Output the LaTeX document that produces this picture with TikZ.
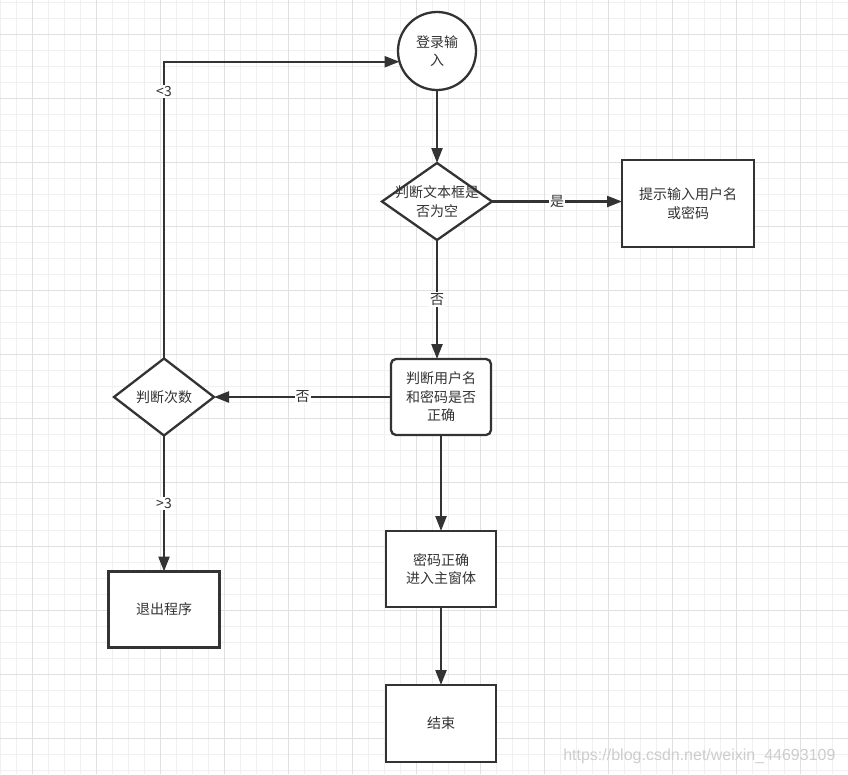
\documentclass[tikz,border=0pt]{standalone}
\usepackage{fontspec}
\usepackage{tikz}
\usetikzlibrary{positioning, arrows.meta, shapes.geometric}
\newfontfamily\cjkfont{Noto Sans CJK SC}
\newfontfamily\urlfont{Liberation Sans}
\definecolor{lineDark}{RGB}{51,51,51}
\definecolor{gridMinor}{RGB}{240,240,240}
\definecolor{gridMajor}{RGB}{224,224,224}
\definecolor{markGray}{RGB}{205,205,205}
\tikzset{
	flowbox/.style={rectangle, draw=lineDark, line width=2.3pt, fill=white, outer sep=0pt,
		align=center, font=\cjkfont\fontsize{14}{18.5}\selectfont, text=lineDark,
		inner sep=2pt, minimum width=110pt, minimum height=76pt},
	roundbox/.style={flowbox, rounded corners=5pt},
	decision/.style={diamond, draw=lineDark, line width=2.3pt, fill=white, aspect=1.43,
		outer sep=0pt, inner xsep=-15pt, inner ysep=0pt, align=center,
		font=\cjkfont\fontsize{14}{18.5}\selectfont, text=lineDark},
	startnode/.style={circle, draw=lineDark, line width=2.3pt, fill=white, inner sep=0pt,
		outer sep=0pt, minimum size=78pt, align=center,
		font=\cjkfont\fontsize{14}{18.5}\selectfont, text=lineDark},
	flowarr/.style={-{Triangle[length=15pt, width=11pt]}, line width=2.3pt, draw=lineDark},
	edgelabel/.style={font=\cjkfont\fontsize{14}{16}\selectfont, fill=white, inner sep=1pt, text=lineDark}
}

\begin{document}
\begin{tikzpicture}[x=1pt, y=-1pt,
		gridline/.style={line width=1pt}]
	% background grid
	\fill[white] (0,0) rectangle (848,774);
	\useasboundingbox (0,0) rectangle (848,774);
	\foreach \gx in {0,...,53}
		\draw[gridline, gridMinor] ({\gx*16+0.5},0) -- ({\gx*16+0.5},774);
	\foreach \gy in {0,...,48}
		\draw[gridline, gridMinor] (0,{\gy*16+2}) -- (848,{\gy*16+2});
	\foreach \gx in {0,...,12}
		\draw[gridline, gridMajor] ({\gx*64+32.5},0) -- ({\gx*64+32.5},774);
	\foreach \gy in {0,...,11}
		\draw[gridline, gridMajor] (0,{\gy*64+34}) -- (848,{\gy*64+34});

	% nodes
	\node[startnode] (login) at (437,51) {登录输\\入};
	\node[decision, below=73pt of login, minimum width=110pt, minimum height=77pt] (emptyChk) {判断文本框是\\否为空};
	\node[flowbox, right=130pt of emptyChk, yshift=-2pt, minimum width=132pt, minimum height=87pt] (hint) {提示输入用户名\\或密码};
	\node[roundbox, below=119pt of emptyChk, xshift=4pt, minimum width=100pt] (pwdChk) {判断用户名\\和密码是否\\正确};
	\node[decision, left=177pt of pwdChk, minimum width=100pt, minimum height=77pt] (countChk) {判断次数};
	\node[flowbox, below=136pt of countChk, minimum width=111pt] (quit) {退出程序};
	\node[flowbox, below=96pt of pwdChk] (mainWin) {密码正确\\进入主窗体};
	\node[flowbox, below=78pt of mainWin, minimum height=77pt] (finish) {结束};

	% connectors
	\draw[flowarr] (login) -- (emptyChk);
	\draw[flowarr] (emptyChk) -- node[edgelabel] {是} (emptyChk -| hint.west);
	\draw[flowarr] (emptyChk.south) -- node[edgelabel] {否} (emptyChk.south |- pwdChk.north);
	\draw[flowarr] (pwdChk) -- node[edgelabel] {否} (countChk);
	\draw[flowarr] (countChk.north) |- node[edgelabel, pos=0.45] {<3} (login.196);
	\draw[flowarr] (countChk) -- node[edgelabel] {>3} (quit);
	\draw[flowarr] (pwdChk) -- (mainWin);
	\draw[flowarr] (mainWin) -- (finish);

	\node[font=\urlfont\fontsize{16}{18}\selectfont, text=markGray, anchor=east] (mark) at (839,756) {https://blog.csdn.net/weixin\_44693109};
\end{tikzpicture}
\end{document}
